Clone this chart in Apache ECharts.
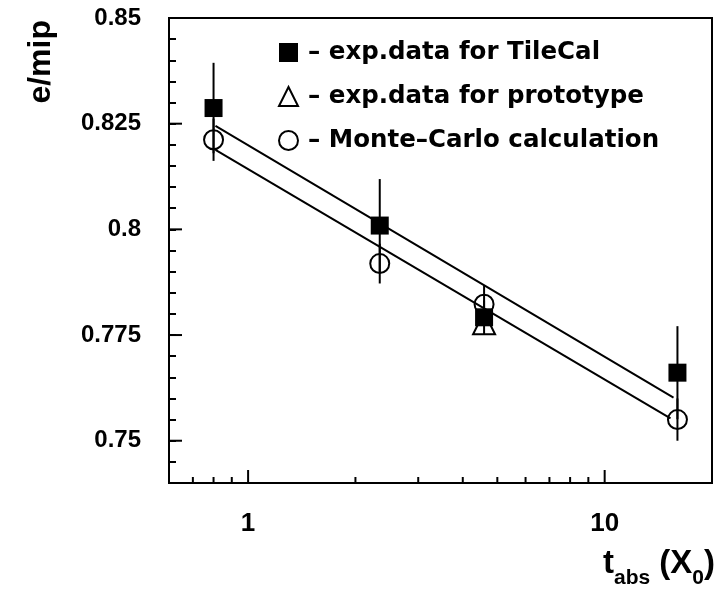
<!DOCTYPE html>
<html>
<head>
<meta charset="utf-8">
<script src="https://cdn.jsdelivr.net/npm/echarts@6/dist/echarts.min.js"></script>
<style>
html, body { margin: 0; padding: 0; background: #fff; }
#main { width: 727px; height: 594px; }
</style>
</head>
<body>
<div id="main"></div>
<script>
// absorber thickness t_abs (X0)
var tAbs = [0.8, 2.34, 4.59, 16.0];
// e/mip, exp. data for TileCal
var tileCal = [0.8287, 0.8009, 0.7792, 0.7661];
var tileCalErr = [0.0107, 0.011, 0.004, 0.011];
// Monte-Carlo
var monteCarlo = [0.8212, 0.7919, 0.7823, 0.7550];
var monteCarloErr = [0.005, 0.0047, 0.0045, 0.005];
// prototype
var protoX = [4.59];
var proto = [0.7778];
// fitted lines (two ends each)
var fitUpX = [0.81, 15.6];
var fitUpY = [0.8245, 0.7602];
var fitLowX = [0.81, 15.3];
var fitLowY = [0.8188, 0.7553];
// ticks
var xMajorTicks = [1, 10];
var xMinorTicks = [0.7, 0.8, 0.9, 2, 3, 4, 5, 6, 7, 8, 9];
var yMajorTicks = [0.75, 0.775, 0.8, 0.825, 0.85];

var xMin = 0.6, xMax = 20, yMin = 0.74, yMax = 0.85;

function pairs(xs, ys) {
	return xs.map(function (x, i) { return [x, ys[i]]; });
}
function errs(xs, ys, es) {
	return xs.map(function (x, i) { return [x, ys[i] - es[i], ys[i] + es[i]]; });
}
function rnd(v) { return Number(v.toPrecision(6)); }

function xTick(len) {
	return function (params, api) {
		var p = api.coord([api.value(0), yMin]);
		return { type: 'line', shape: { x1: p[0], y1: p[1], x2: p[0], y2: p[1] - len },
			style: { stroke: '#000', lineWidth: 2 } };
	};
}
function yTick(len) {
	return function (params, api) {
		var p = api.coord([xMin, api.value(1)]);
		return { type: 'line', shape: { x1: p[0], y1: p[1], x2: p[0] + len, y2: p[1] },
			style: { stroke: '#000', lineWidth: 2 } };
	};
}
function errBar(params, api) {
	var a = api.coord([api.value(0), api.value(1)]);
	var b = api.coord([api.value(0), api.value(2)]);
	return { type: 'line', shape: { x1: a[0], y1: a[1], x2: b[0], y2: b[1] },
		style: { stroke: '#000', lineWidth: 2 } };
}

var myChart = echarts.init(document.getElementById('main'));
var option = {
	animation: false,
	backgroundColor: '#fff',
	grid: {
		left: 169, right: 15, top: 18, bottom: 111,
		show: true, borderColor: '#000', borderWidth: 2
	},
	legend: {
		orient: 'vertical',
		left: 273, top: 35,
		itemWidth: 19, itemHeight: 19, itemGap: 19,
		formatter: function (name) { return '– ' + name; },
		textStyle: { fontFamily: 'DejaVu Sans', fontWeight: 'bold', fontSize: 24.5, color: '#000', padding: [0, 0, 0, 5] },
		data: [
			{ name: 'exp.data for TileCal', icon: 'rect', itemStyle: { color: '#000', opacity: 1 } },
			{ name: 'exp.data for prototype', icon: 'triangle', itemStyle: { color: '#fff', borderColor: '#000', borderWidth: 2, opacity: 1 } },
			{ name: 'Monte–Carlo calculation', icon: 'circle', itemStyle: { color: '#fff', borderColor: '#000', borderWidth: 2, opacity: 1 } }
		]
	},
	xAxis: {
		type: 'log', logBase: 10, min: xMin, max: xMax,
		axisLine: { show: false }, axisTick: { show: false }, splitLine: { show: false },
		axisLabel: {
			margin: 28, fontSize: 26, fontWeight: 'bold', fontFamily: 'Liberation Sans', color: '#000',
			showMinLabel: false, showMaxLabel: false,
			formatter: function (v) { v = rnd(v); return xMajorTicks.indexOf(v) >= 0 ? String(v) : ''; }
		},
		name: '{t|t}{s|abs}{t| (X}{s|0}{t|)}',
		nameLocation: 'end', nameGap: 3,
		nameTextStyle: {
			align: 'right', verticalAlign: 'top', padding: [64, 0, 0, 0],
			rich: {
				t: { fontSize: 33, fontWeight: 'bold', fontFamily: 'Liberation Sans', color: '#000', verticalAlign: 'top' },
				s: { fontSize: 21, fontWeight: 'bold', fontFamily: 'Liberation Sans', color: '#000', verticalAlign: 'top', padding: [21, 0, 0, 0] }
			}
		}
	},
	yAxis: {
		type: 'value', min: yMin, max: yMax, interval: 0.005,
		axisLine: { show: false }, splitLine: { show: false },
		axisTick: { inside: true, length: 7, lineStyle: { color: '#000', width: 2 } },
		axisLabel: {
			margin: 28, fontSize: 24, fontWeight: 'bold', fontFamily: 'Liberation Sans', color: '#000',
			formatter: function (v) { v = rnd(v); return yMajorTicks.indexOf(v) >= 0 ? String(v) : ''; }
		},
		name: 'e/mip', nameLocation: 'end', nameGap: 0, nameRotate: 90,
		nameTextStyle: {
			fontSize: 32, fontWeight: 'bold', fontFamily: 'Liberation Sans', color: '#000',
			align: 'right', verticalAlign: 'bottom', padding: [0, 2, 112, 0]
		}
	},
	series: [
		{ type: 'custom', silent: true, renderItem: xTick(13), data: xMajorTicks.map(function (x) { return [x, yMin]; }), z: 5 },
		{ type: 'custom', silent: true, renderItem: xTick(6), data: xMinorTicks.map(function (x) { return [x, yMin]; }), z: 5 },
		{ type: 'custom', silent: true, renderItem: yTick(13), data: yMajorTicks.map(function (y) { return [xMin, y]; }), z: 5 },
		{ type: 'line', silent: true, data: pairs(fitUpX, fitUpY), symbol: 'none', lineStyle: { color: '#000', width: 2 } },
		{ type: 'line', silent: true, data: pairs(fitLowX, fitLowY), symbol: 'none', lineStyle: { color: '#000', width: 2 } },
		{ type: 'custom', silent: true, renderItem: errBar, data: errs(tAbs, tileCal, tileCalErr), encode: { x: 0, y: [1, 2] }, z: 3 },
		{ type: 'custom', silent: true, renderItem: errBar, data: errs(tAbs, monteCarlo, monteCarloErr), encode: { x: 0, y: [1, 2] }, z: 3 },
		{
			name: 'exp.data for prototype', type: 'scatter', data: pairs(protoX, proto),
			symbol: 'triangle', symbolSize: 22,
			itemStyle: { color: 'rgba(0,0,0,0)', borderColor: '#000', borderWidth: 2, opacity: 1 }, z: 4
		},
		{
			name: 'Monte–Carlo calculation', type: 'scatter', data: pairs(tAbs, monteCarlo),
			symbol: 'circle', symbolSize: 19,
			itemStyle: { color: 'rgba(0,0,0,0)', borderColor: '#000', borderWidth: 2, opacity: 1 }, z: 4
		},
		{
			name: 'exp.data for TileCal', type: 'scatter', data: pairs(tAbs, tileCal),
			symbol: 'rect', symbolSize: 18,
			itemStyle: { color: '#000', opacity: 1 }, z: 4
		}
	]
};
myChart.setOption(option);
</script>
</body>
</html>
